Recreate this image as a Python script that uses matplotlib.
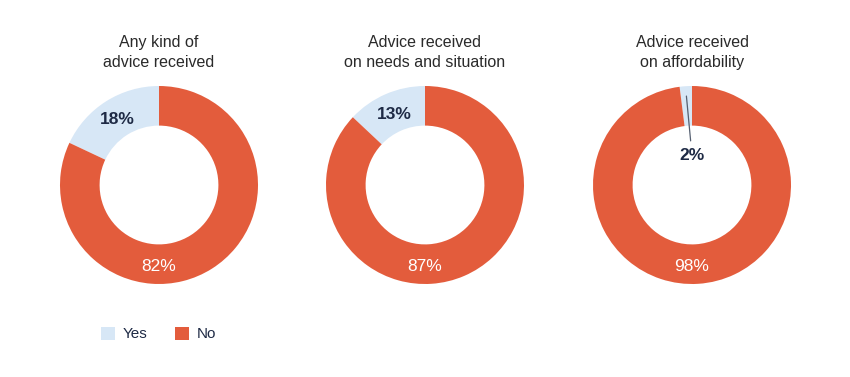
import numpy as np
import matplotlib.pyplot as plt
from matplotlib.patches import Patch

plt.rcParams['font.family'] = ['Liberation Sans', 'DejaVu Sans']

# Data
titles = ['Any kind of\nadvice received',
          'Advice received\non needs and situation',
          'Advice received\non affordability']
yes_vals = [18, 13, 2]
no_vals = [82, 87, 98]
labels = ['Yes', 'No']

col_yes = '#d7e7f6'
col_no = '#e35c3c'
col_text = '#1e2a45'

W, H = 850, 377
fig = plt.figure(figsize=(W / 100, H / 100), dpi=100)

centres_x = [159, 425, 692]
cy = 185
R = 99

for i in range(3):
    ax = fig.add_axes([(centres_x[i] - R) / W, (H - cy - R) / H, 2 * R / W, 2 * R / H])
    vals = [yes_vals[i], no_vals[i]]
    ax.pie(vals, colors=[col_yes, col_no], startangle=90, counterclock=True,
           radius=1, wedgeprops=dict(width=0.4, edgecolor='none'))
    ax.set_xlim(-1, 1)
    ax.set_ylim(-1, 1)
    ax.set_aspect('equal')
    ax.axis('off')

    # Yes label
    mid = np.deg2rad(90 + 360 * yes_vals[i] / 100 / 2)
    if yes_vals[i] >= 5:
        ax.text(0.78 * np.cos(mid), 0.78 * np.sin(mid), f'{yes_vals[i]}%',
                ha='center', va='center', fontsize=12.5, color=col_text,
                fontweight='semibold')
    else:
        ax.annotate(f'{yes_vals[i]}%', xy=(0.9 * np.cos(mid), 0.9 * np.sin(mid)),
                    xytext=(0, 0.30), ha='center', va='center', fontsize=12.5,
                    color=col_text, fontweight='semibold',
                    arrowprops=dict(arrowstyle='-', color='#555f70', lw=0.9,
                                    shrinkA=3, shrinkB=0))
    # No label at bottom
    ax.text(0, -0.82, f'{no_vals[i]}%', ha='center', va='center',
            fontsize=12.5, color='white')

    ax.text(0, 1.34, titles[i], ha='center', va='center', fontsize=11.5,
            color='#2a2a2a', linespacing=1.4, clip_on=False)

handles = [Patch(facecolor=col_yes, edgecolor='none'),
           Patch(facecolor=col_no, edgecolor='none')]
fig.legend(handles, labels, loc='center left', bbox_to_anchor=(101 / W, 1 - 334 / H),
           ncol=2, frameon=False, fontsize=11, handlelength=0.92, handleheight=0.92,
           columnspacing=1.8, handletextpad=0.5, borderpad=0, borderaxespad=0,
           labelcolor=col_text)

fig.savefig('out.png', dpi=100, facecolor='white')
